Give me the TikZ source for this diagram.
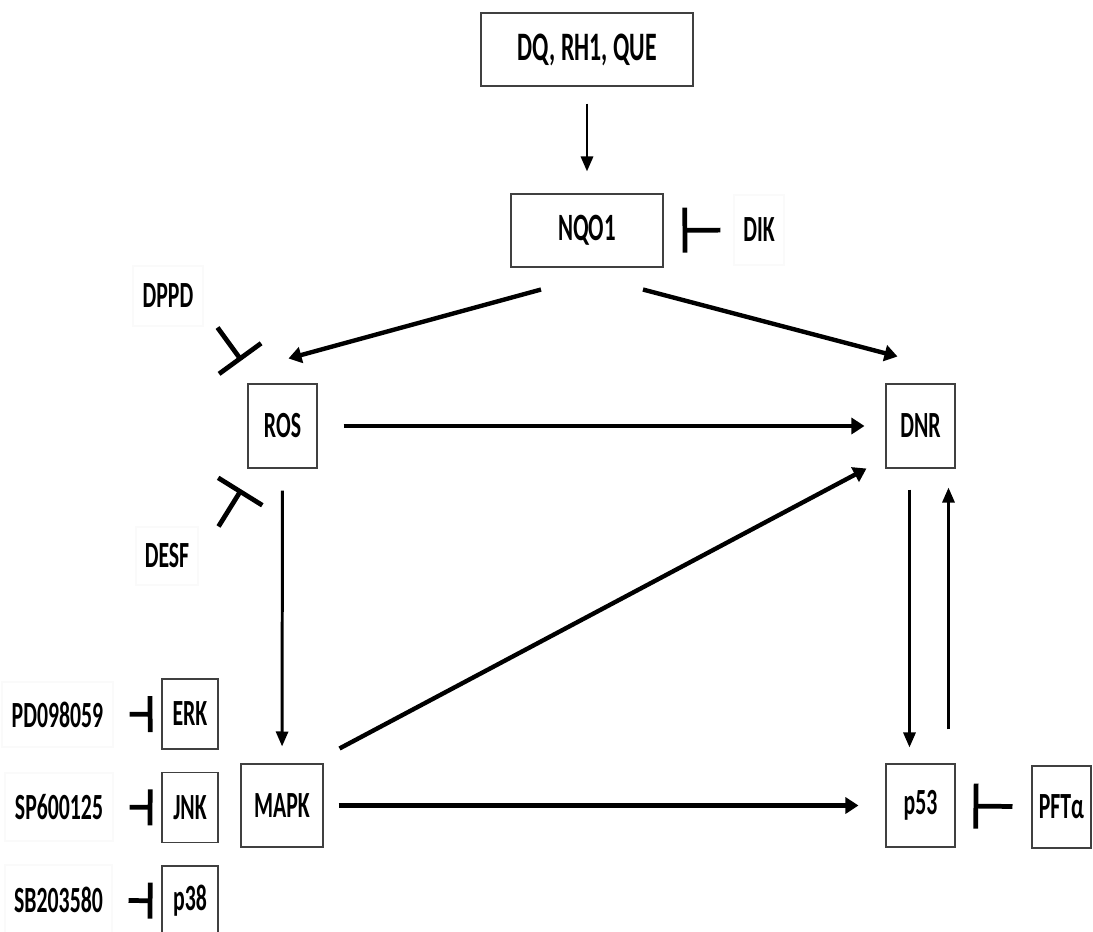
\documentclass[tikz,border=0pt]{standalone}
\usepackage{fontspec}
\setmainfont{Carlito}[FakeStretch=0.59]
\usetikzlibrary{arrows.meta}

\begin{document}
\begin{tikzpicture}[x=0.02cm,y=-0.02cm]
    \tikzstyle{box}=[draw=black!75,line width=0.6pt,inner sep=0pt,font=\bfseries\fontsize{21}{23}\selectfont]
    \tikzstyle{drug}=[box,draw=black!2]
    \tikzstyle{act}=[line width=2.5pt,-{Triangle[length=0.26cm,width=0.32cm]}]
    \tikzstyle{slim}=[line width=1.7pt,-{Triangle[length=0.3cm,width=0.24cm]}]
    \tikzstyle{inhib}=[line width=2.7pt,-{Bar[width=0.9cm]}]
    \tikzstyle{inhibs}=[line width=2.7pt,-{Bar[width=0.72cm]}]
    \useasboundingbox (0,0) rectangle (1093,931);
    \node[box,minimum width=4.24cm,minimum height=1.46cm,font=\bfseries\fontsize{23}{25}\selectfont] (DQ) at (587,49.5) {DQ, RH1, QUE};
    \node[box,minimum width=3.04cm,minimum height=1.46cm,font=\bfseries\fontsize{22}{24}\selectfont] (NQO1) at (587,230.5) {NQO1};
    \node[drug,minimum width=1.0cm,minimum height=1.4cm] (DIK) at (759,230) {DIK};
    \node[drug,minimum width=1.4cm,minimum height=1.2cm] (DPPD) at (168,296) {DPPD};
    \node[drug,minimum width=1.24cm,minimum height=1.16cm] (DESF) at (167,556) {DESF};
    \node[box,minimum width=1.38cm,minimum height=1.68cm] (ROS) at (282.5,426) {ROS};
    \node[box,minimum width=1.38cm,minimum height=1.68cm] (DNR) at (920.5,426) {DNR};
    \node[box,minimum width=1.64cm,minimum height=1.66cm] (MAPK) at (282,805.5) {MAPK};
    \node[box,minimum width=1.38cm,minimum height=1.66cm] (p53) at (920.5,805.5) {p53};
    \node[box,minimum width=1.18cm,minimum height=1.64cm] (PFT) at (1061.5,807) {PFTα};
    \node[box,minimum width=1.12cm,minimum height=1.4cm] (ERK) at (190,714) {ERK};
    \node[box,minimum width=1.12cm,minimum height=1.4cm] (JNK) at (190,807.5) {JNK};
    \node[box,minimum width=1.12cm,minimum height=1.4cm] (p38) at (190,901) {p38};
    \node[drug,minimum width=2.22cm,minimum height=1.3cm] (PD) at (57.5,714.5) {PD098059};
    \node[drug,minimum width=2.16cm,minimum height=1.36cm] (SP) at (59,807) {SP600125};
    \node[drug,minimum width=2.14cm,minimum height=1.4cm] (SB) at (58.5,900) {SB203580};
    % activations
    \draw[slim,shorten <=0.34cm,shorten >=0.44cm] (DQ) -- (NQO1);
    \draw[act] ([shift={(-46,22)}]NQO1.south) -- ([shift={(6,-25)}]ROS.north);
    \draw[act] ([shift={(56,22)}]NQO1.south) -- ([shift={(-23,-27)}]DNR.north);
    \draw[act,shorten <=0.52cm,shorten >=0.42cm] (ROS) -- (DNR);
    \draw[slim,shorten <=0.44cm,shorten >=0.34cm] (ROS) -- (MAPK);
    \draw[act] ([shift={(16,-15)}]MAPK.north east) -- ([shift={(-19,0)}]DNR.south west);
    \draw[act,shorten <=0.3cm,shorten >=0.54cm] (MAPK) -- (p53);
    \draw[slim] ([shift={(-11,21)}]DNR.south) -- ([shift={(-11,-16)}]p53.north);
    \draw[slim] ([shift={(28,-34)}]p53.north) -- ([shift={(28,19)}]DNR.south);
    % inhibitions
    \draw[inhib,shorten <=0.26cm,shorten >=0.38cm] (DIK) -- (NQO1);
    \draw[inhib,-{Bar[width=1.04cm]}] ([shift={(14,1)}]DPPD.south east) -- ([shift={(-6,-23)}]ROS.north west);
    \draw[inhib,-{Bar[width=1.04cm]}] ([shift={(20,0)}]DESF.north east) -- ([shift={(-6,21)}]ROS.south west);
    \draw[inhib,shorten <=0.38cm,shorten >=0.36cm] (PFT) -- (p53);
    \draw[inhibs,shorten <=0.32cm,shorten >=0.18cm] (PD) -- (ERK);
    \draw[inhibs,shorten <=0.32cm,shorten >=0.18cm] (SP) -- (JNK);
    \draw[inhibs,shorten <=0.32cm,shorten >=0.18cm] (SB) -- (p38);
\end{tikzpicture}
\end{document}
